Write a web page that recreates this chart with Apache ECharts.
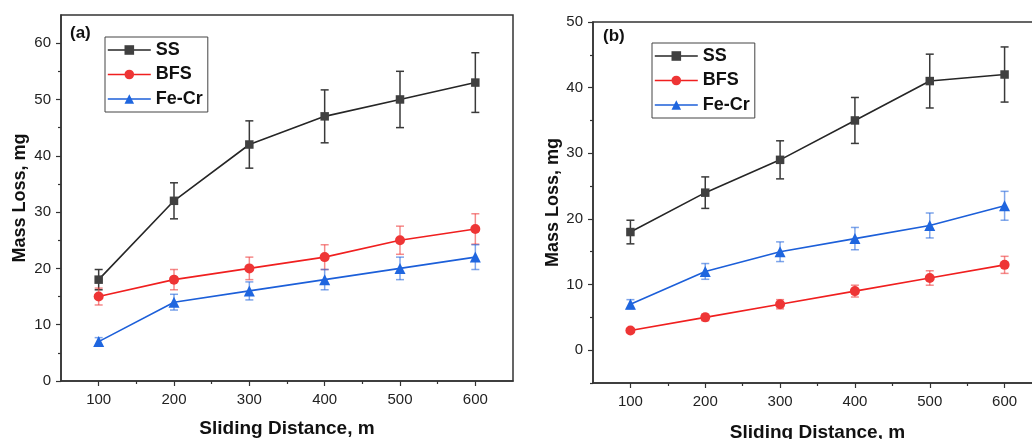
<!DOCTYPE html>
<html>
<head>
<meta charset="utf-8">
<script src="https://cdn.jsdelivr.net/npm/echarts@6/dist/echarts.min.js"></script>
<style>
  html, body { margin: 0; padding: 0; background: #fff; }
  #chart { width: 1032px; height: 439px; }
</style>
</head>
<body>
<div id="chart"></div>
<script>
// Sliding distance (m)
const distance = [100, 200, 300, 400, 500, 600];

// Panel (a): mass loss (mg) and error
const ssA = [18, 32, 42, 47, 50, 53];
const ssAErr = [1.8, 3.2, 4.2, 4.7, 5.0, 5.3];
const bfsA = [15, 18, 20, 22, 25, 27];
const bfsAErr = [1.5, 1.8, 2.0, 2.2, 2.5, 2.7];
const feCrA = [7, 14, 16, 18, 20, 22];
const feCrAErr = [0.7, 1.4, 1.6, 1.8, 2.0, 2.2];

// Panel (b): mass loss (mg) and error
const ssB = [18, 24, 29, 35, 41, 42];
const ssBErr = [1.8, 2.4, 2.9, 3.5, 4.1, 4.2];
const bfsB = [3, 5, 7, 9, 11, 13];
const bfsBErr = [0.3, 0.5, 0.7, 0.9, 1.1, 1.3];
const feCrB = [7, 12, 15, 17, 19, 22];
const feCrBErr = [0.7, 1.2, 1.5, 1.7, 1.9, 2.2];

// Tick values
const xMajor = [100, 200, 300, 400, 500, 600];
const xMinor = [150, 250, 350, 450, 550];
const yMajorA = [0, 10, 20, 30, 40, 50, 60];
const yMinorA = [5, 15, 25, 35, 45, 55];
const yMajorB = [0, 10, 20, 30, 40, 50];
const yMinorB = [-5, 5, 15, 25, 35, 45];

const FONT = "'Liberation Sans', Arial, sans-serif";
const AXIS_COLOR = '#333';

const colors = {
  SS: { line: '#262626', mark: '#404040', err: '#3a3a3a' },
  BFS: { line: '#f01f1f', mark: '#ee3535', err: 'rgba(238,60,60,0.6)' },
  'Fe-Cr': { line: '#1c5fd9', mark: '#1f66df', err: 'rgba(40,105,220,0.6)' }
};
const symbols = { SS: 'rect', BFS: 'circle', 'Fe-Cr': 'triangle' };
const symbolSizes = { SS: 8.5, BFS: 10, 'Fe-Cr': 11 };

function mainX(gridIndex, name, nameGap) {
  return {
    type: 'value', gridIndex, min: 50, max: 650, position: 'bottom',
    name, nameLocation: 'middle', nameGap,
    nameTextStyle: { fontFamily: FONT, fontWeight: 'bold', fontSize: 19, color: '#111' },
    axisLine: { show: true, onZero: false, lineStyle: { color: AXIS_COLOR, width: 1.5 } },
    axisTick: { show: true, customValues: xMajor, length: 5, inside: false, lineStyle: { color: AXIS_COLOR, width: 1.2 } },
    axisLabel: { show: true, customValues: xMajor, margin: 11, fontFamily: FONT, fontSize: 15, color: '#222' },
    splitLine: { show: false }
  };
}
function minorX(gridIndex) {
  return {
    type: 'value', gridIndex, min: 50, max: 650, position: 'bottom',
    axisLine: { show: false, onZero: false },
    axisTick: { show: true, customValues: xMinor, length: 3, lineStyle: { color: AXIS_COLOR, width: 1.2 } },
    axisLabel: { show: false },
    splitLine: { show: false }
  };
}
function mainY(gridIndex, min, max, major, nameGap) {
  return {
    type: 'value', gridIndex, min, max, position: 'left',
    name: 'Mass Loss, mg', nameLocation: 'middle', nameGap, nameRotate: 90,
    nameTextStyle: { fontFamily: FONT, fontWeight: 'bold', fontSize: 18, color: '#111' },
    axisLine: { show: true, onZero: false, lineStyle: { color: AXIS_COLOR, width: 1.5 } },
    axisTick: { show: true, customValues: major, length: 5, lineStyle: { color: AXIS_COLOR, width: 1.2 } },
    axisLabel: { show: true, customValues: major, margin: 10, fontFamily: FONT, fontSize: 15, color: '#222' },
    splitLine: { show: false }
  };
}
function minorY(gridIndex, min, max, minor) {
  return {
    type: 'value', gridIndex, min, max, position: 'left',
    axisLine: { show: false, onZero: false },
    axisTick: { show: true, customValues: minor, length: 3, lineStyle: { color: AXIS_COLOR, width: 1.2 } },
    axisLabel: { show: false },
    splitLine: { show: false }
  };
}

function lineSeries(name, xi, yi, values) {
  const c = colors[name];
  return {
    type: 'line', name, xAxisIndex: xi, yAxisIndex: yi,
    data: distance.map((d, i) => [d, values[i]]),
    symbol: symbols[name], symbolSize: symbolSizes[name],
    lineStyle: { color: c.line, width: 1.6 },
    itemStyle: { color: c.mark, borderColor: c.mark, borderWidth: 0 },
    z: 3, animation: false
  };
}

function errorSeries(name, xi, yi, values, errs) {
  const c = colors[name];
  return {
    type: 'custom', name: name + ' error', xAxisIndex: xi, yAxisIndex: yi,
    data: distance.map((d, i) => [d, values[i] - errs[i], values[i] + errs[i]]),
    encode: { x: 0, y: [1, 2] },
    renderItem: function (params, api) {
      const x = api.value(0);
      const lo = api.coord([x, api.value(1)]);
      const hi = api.coord([x, api.value(2)]);
      const w = 4;
      const st = { stroke: c.err, lineWidth: 1.5 };
      return {
        type: 'group',
        children: [
          { type: 'line', shape: { x1: lo[0], y1: lo[1], x2: hi[0], y2: hi[1] }, style: st },
          { type: 'line', shape: { x1: lo[0] - w, y1: lo[1], x2: lo[0] + w, y2: lo[1] }, style: st },
          { type: 'line', shape: { x1: hi[0] - w, y1: hi[1], x2: hi[0] + w, y2: hi[1] }, style: st }
        ]
      };
    },
    silent: true, z: 2, animation: false
  };
}

function legendAt(left, top) {
  return {
    orient: 'vertical', left, top,
    data: ['SS', 'BFS', 'Fe-Cr'],
    itemWidth: 43, itemHeight: 12, itemGap: 6.5,
    padding: [4, 5, 4, 2],
    borderColor: '#444', borderWidth: 1,
    lineStyle: { width: 1.6 },
    textStyle: { fontFamily: FONT, fontWeight: 'bold', fontSize: 18, color: '#111', lineHeight: 18 },
    selectedMode: false
  };
}

const chart = echarts.init(document.getElementById('chart'), null, { renderer: 'canvas' });
chart.setOption({
  backgroundColor: '#fff',
  animation: false,
  grid: [
    { left: 61, top: 15, width: 452, height: 366, outerBoundsMode: 'none', show: true, borderColor: AXIS_COLOR, borderWidth: 1.5, backgroundColor: 'transparent' },
    { left: 593, top: 22, width: 449, height: 361, outerBoundsMode: 'none', show: true, borderColor: AXIS_COLOR, borderWidth: 1.5, backgroundColor: 'transparent' }
  ],
  xAxis: [
    mainX(0, 'Sliding Distance, m', 38),
    minorX(0),
    mainX(1, 'Sliding Distance, m', 40),
    minorX(1)
  ],
  yAxis: [
    mainY(0, 0, 65, yMajorA, 32),
    minorY(0, 0, 65, yMinorA),
    mainY(1, -5, 50, yMajorB, 31),
    minorY(1, -5, 50, yMinorB)
  ],
  legend: [legendAt(105, 37), legendAt(652, 43)],
  graphic: [
    { type: 'text', left: 70, top: 25, style: { text: '(a)', font: 'bold 17px ' + FONT, fill: '#111' } },
    { type: 'text', left: 603, top: 28, style: { text: '(b)', font: 'bold 17px ' + FONT, fill: '#111' } }
  ],
  series: [
    errorSeries('SS', 0, 0, ssA, ssAErr),
    errorSeries('BFS', 0, 0, bfsA, bfsAErr),
    errorSeries('Fe-Cr', 0, 0, feCrA, feCrAErr),
    lineSeries('SS', 0, 0, ssA),
    lineSeries('BFS', 0, 0, bfsA),
    lineSeries('Fe-Cr', 0, 0, feCrA),
    errorSeries('SS', 2, 2, ssB, ssBErr),
    errorSeries('BFS', 2, 2, bfsB, bfsBErr),
    errorSeries('Fe-Cr', 2, 2, feCrB, feCrBErr),
    lineSeries('SS', 2, 2, ssB),
    lineSeries('BFS', 2, 2, bfsB),
    lineSeries('Fe-Cr', 2, 2, feCrB)
  ]
});
</script>
</body>
</html>
